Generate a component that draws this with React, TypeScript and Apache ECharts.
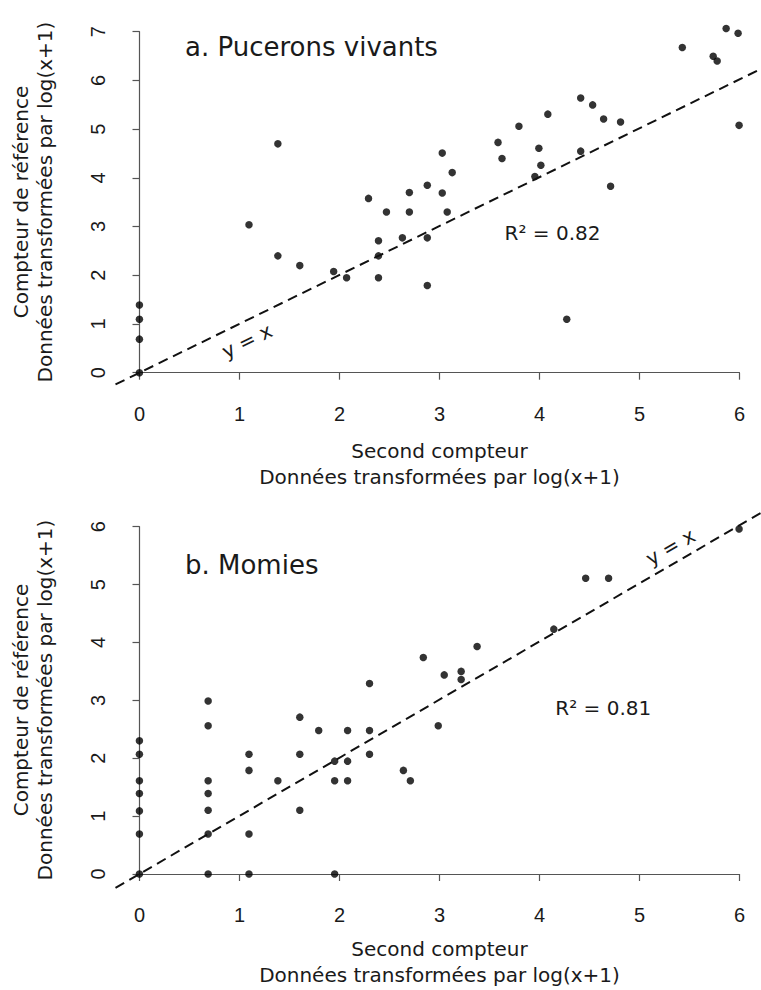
import React, { useEffect, useRef } from "react";
import * as echarts from "echarts";

// a. Pucerons vivants — log(x+1) counts
const aphidSecond = [
  0, 0, 0, 0, 1.1, 1.39, 1.39, 1.61, 1.95, 2.08, 2.3, 2.4, 2.4, 2.4, 2.48, 2.64, 2.71, 2.71, 2.89, 2.89, 2.89,
  3.04, 3.14, 3.04, 3.09, 3.6, 3.64, 3.81, 4.01, 4.03, 3.97, 4.1, 4.43, 4.55, 4.66, 4.83, 4.43, 4.73, 4.29,
  5.45, 5.76, 5.8, 5.89, 6.01, 6.02,
];
const aphidRef = [
  0, 0.69, 1.1, 1.39, 3.04, 4.7, 2.4, 2.2, 2.08, 1.95, 3.58, 2.71, 2.4, 1.95, 3.3, 2.77, 3.7, 3.3, 3.85, 2.77, 1.79,
  4.51, 4.11, 3.69, 3.3, 4.73, 4.4, 5.06, 4.61, 4.26, 4.03, 5.31, 5.64, 5.5, 5.21, 5.15, 4.55, 3.83, 1.1,
  6.68, 6.5, 6.4, 7.07, 6.97, 5.08,
];

// b. Momies — log(x+1) counts
const mummySecond = [
  0, 0, 0, 0, 0, 0, 0, 0.69, 0.69, 0.69, 0.69, 0.69, 0.69, 0.69, 1.1, 1.1, 1.1, 1.1, 1.39, 1.61, 1.61, 1.61,
  1.8, 1.96, 1.96, 1.96, 2.09, 2.09, 2.09, 2.31, 2.31, 2.31, 2.65, 2.72, 2.85, 3.0, 3.06, 3.23, 3.23, 3.39,
  4.16, 4.48, 4.71, 6.02,
];
const mummyRef = [
  2.3, 2.07, 1.61, 1.39, 1.09, 0.69, 0, 2.99, 2.56, 1.61, 1.39, 1.1, 0.69, 0, 2.07, 1.79, 0.69, 0, 1.61, 2.71, 2.07, 1.1,
  2.48, 1.95, 1.61, 0, 2.48, 1.95, 1.61, 3.29, 2.48, 2.07, 1.79, 1.61, 3.74, 2.56, 3.44, 3.5, 3.36, 3.93,
  4.23, 5.11, 5.11, 5.96,
];

const xTicks = [0, 1, 2, 3, 4, 5, 6];
const aphidYMax = 7;
const mummyYMax = 6;
const identityLine = [
  [-0.24, -0.24],
  [6.24, 6.24],
];

const FONT = "DejaVu Sans";
const TICK_FONT = "Liberation Sans";
const AXIS_COLOR = "#555";
const TEXT_COLOR = "#1a1a1a";

function zip(xs: number[], ys: number[]) {
  return xs.map((x, i) => [x, ys[i]]);
}

export default function App() {
  const ref = useRef<HTMLDivElement>(null);

  useEffect(() => {
    if (!ref.current) return;
    const chart = echarts.init(ref.current, undefined, { renderer: "svg" });

    const hiddenX = (gridIndex: number) => ({
      type: "value",
      gridIndex,
      min: -0.24,
      max: 6.24,
      show: false,
    });
    const hiddenY = (gridIndex: number, max: number) => ({
      type: "value",
      gridIndex,
      min: -0.04 * max,
      max: max * 1.04,
      show: false,
    });
    const visibleX = (gridIndex: number, offset: number) => ({
      type: "value",
      gridIndex,
      min: xTicks[0],
      max: xTicks[xTicks.length - 1],
      interval: 1,
      offset,
      axisLine: { show: true, lineStyle: { color: AXIS_COLOR, width: 1.2 } },
      axisTick: { show: true, length: 7, lineStyle: { color: AXIS_COLOR, width: 1.2 } },
      splitLine: { show: false },
      axisLabel: { fontSize: 20, fontFamily: TICK_FONT, color: TEXT_COLOR, margin: 17 },
    });
    const visibleY = (gridIndex: number, max: number, offset: number) => ({
      type: "value",
      gridIndex,
      min: 0,
      max,
      interval: 1,
      offset,
      axisLine: { show: true, lineStyle: { color: AXIS_COLOR, width: 1.2 } },
      axisTick: { show: true, length: 7, lineStyle: { color: AXIS_COLOR, width: 1.2 } },
      splitLine: { show: false },
      axisLabel: { fontSize: 20, fontFamily: TICK_FONT, color: TEXT_COLOR, margin: 8, rotate: 90 },
    });

    const textEl = (
      text: string,
      x: number,
      y: number,
      fontSize: number,
      align: string,
      rotation = 0,
      lineHeight?: number
    ) => ({
      type: "text",
      x,
      y,
      rotation,
      silent: true,
      style: {
        text,
        fontSize,
        fontFamily: FONT,
        fill: TEXT_COLOR,
        align,
        textAlign: align,
        verticalAlign: "middle",
        textVerticalAlign: "middle",
        lineHeight: lineHeight ?? fontSize * 1.2,
      },
    });

    const xTitle = "Second compteur\nDonnées transformées par log(x+1)";
    const yTitle = "Compteur de référence\nDonnées transformées par log(x+1)";

    const scatter = (idx: number, data: number[][]) => ({
      type: "scatter",
      xAxisIndex: idx,
      yAxisIndex: idx,
      data,
      symbol: "circle",
      symbolSize: 7.5,
      itemStyle: { color: "#000" },
      clip: false,
      silent: true,
    });
    const identity = (idx: number) => ({
      type: "line",
      xAxisIndex: idx,
      yAxisIndex: idx,
      data: identityLine,
      symbol: "none",
      clip: true,
      lineStyle: { color: "#111", width: 2, type: [10, 6] },
      silent: true,
    });

    chart.setOption({
      animation: false,
      backgroundColor: "#fff",
      grid: [
        { left: 115.5, top: 18.2, width: 648, height: 368.2 },
        { left: 139.5, top: 31.7, width: 600, height: 341 },
        { left: 115.5, top: 512.8, width: 648, height: 375.1 },
        { left: 139.5, top: 526.7, width: 600, height: 347.3 },
      ],
      xAxis: [hiddenX(0), visibleX(1, 13.8), hiddenX(2), visibleX(3, 13.9)],
      yAxis: [
        hiddenY(0, aphidYMax),
        visibleY(1, aphidYMax, 24),
        hiddenY(2, mummyYMax),
        visibleY(3, mummyYMax, 24),
      ],
      series: [
        identity(0),
        scatter(0, zip(aphidSecond, aphidRef)),
        identity(2),
        scatter(2, zip(mummySecond, mummyRef)),
      ],
      graphic: [
        textEl("a. Pucerons vivants", 185, 46.7, 26, "left"),
        textEl("R² = 0.82", 552.5, 233.3, 20, "center"),
        textEl("y = x", 247, 341, 20, "center", Math.atan(0.4871)),
        textEl(xTitle, 439.5, 464, 20, "center", 0, 26),
        textEl(yTitle, 32.5, 202, 20, "center", Math.PI / 2, 24),

        textEl("b. Momies", 185, 565, 26, "left"),
        textEl("R² = 0.81", 603.3, 708.3, 20, "center"),
        textEl("y = x", 670.5, 547, 20, "center", Math.atan(0.5788)),
        textEl(xTitle, 439.5, 962, 20, "center", 0, 26),
        textEl(yTitle, 32.5, 700, 20, "center", Math.PI / 2, 24),
      ],
    });

    return () => chart.dispose();
  }, []);

  return (
    <div
      ref={ref}
      style={{ position: "absolute", left: 0, top: 0, width: 761, height: 990, background: "#fff" }}
    />
  );
}
